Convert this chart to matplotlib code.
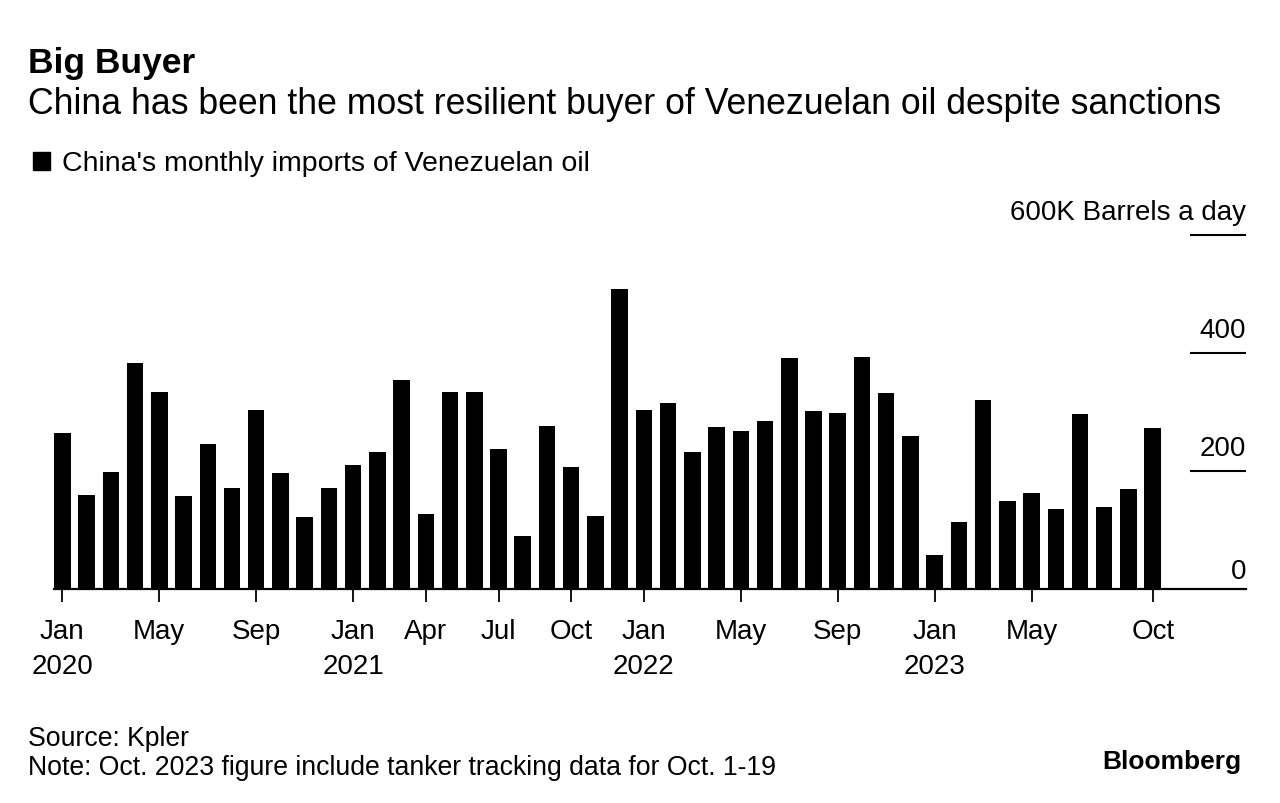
import numpy as np
import matplotlib
matplotlib.use("Agg")
import matplotlib.pyplot as plt
from matplotlib.patches import Rectangle

# data (thousand barrels a day), Jan 2020 .. Oct 2023
values = [264, 159, 199, 383, 334, 158, 246, 172, 303, 196, 122, 172,
          210, 233, 355, 127, 334, 334, 238, 89, 276, 207, 123, 508,
          303, 316, 233, 274, 268, 285, 392, 302, 298, 393, 332, 259,
          57, 114, 321, 149, 162, 135, 297, 139, 169, 273]
tick_pos = [0, 4, 8, 12, 15, 18, 21, 24, 28, 32, 36, 40, 45]
tick_labels = ["Jan\n2020", "May", "Sep", "Jan\n2021", "Apr", "Jul", "Oct",
               "Jan\n2022", "May", "Sep", "Jan\n2023", "May", "Oct"]
y_ticks = [0, 200, 400, 600]
y_labels = ["0", "200", "400", "600K Barrels a day"]

plt.rcParams['font.family'] = ['Liberation Sans', 'DejaVu Sans']

W, H = 1280, 804
fig = plt.figure(figsize=(W / 100, H / 100), dpi=100)

# axes placed in pixel coords
left, right, bottom, top = 54, 1246, 590, 236
ax = fig.add_axes([left / W, 1 - bottom / H, (right - left) / W, (bottom - top) / H])

x = np.arange(len(values))
ax.bar(x, values, width=0.68, color='black', zorder=3)

ax.set_xlim(-0.345, 48.85)
ax.set_ylim(0, 600)

for s in ['top', 'right', 'left']:
    ax.spines[s].set_visible(False)
ax.spines['bottom'].set_linewidth(1.6)
ax.spines['bottom'].set_color('black')

ax.set_yticks([])
ax.set_xticks(tick_pos)
ax.set_xticklabels(tick_labels, fontsize=20, linespacing=1.45)
ax.tick_params(axis='x', length=9, width=1.3, pad=12, color='black')

# short gridlines on the right + labels above them
for v, lab in zip(y_ticks, y_labels):
    if v > 0:
        ax.hlines(v, 46.55, 48.85, color='black', lw=1.5, clip_on=False)
        off = 16
    else:
        off = 11
    ax.annotate(lab, xy=(48.85, v), xytext=(0, off * 0.72), textcoords='offset points',
                ha='right', va='baseline', fontsize=20, annotation_clip=False)

# header text
fig.text(28 / W, 1 - 73 / H, "Big Buyer", fontsize=25.5, fontweight='bold', va='baseline')
fig.text(28 / W, 1 - 114 / H,
         "China has been the most resilient buyer of Venezuelan oil despite sanctions",
         fontsize=25.7, va='baseline')
fig.patches.append(Rectangle((33 / W, 1 - 171 / H), 17 / W, 18 / H,
                             transform=fig.transFigure, color='black'))
fig.text(62 / W, 1 - 171 / H, "China's monthly imports of Venezuelan oil",
         fontsize=20.5, va='baseline')

# footer
fig.text(28 / W, 1 - 746 / H, "Source: Kpler", fontsize=19.2, va='baseline')
fig.text(28 / W, 1 - 775 / H,
         "Note: Oct. 2023 figure include tanker tracking data for Oct. 1-19",
         fontsize=19.2, va='baseline')
fig.text(1241 / W, 1 - 769 / H, "Bloomberg", fontsize=19, fontweight='bold',
         ha='right', va='baseline')

fig.savefig("out.png", dpi=100)
